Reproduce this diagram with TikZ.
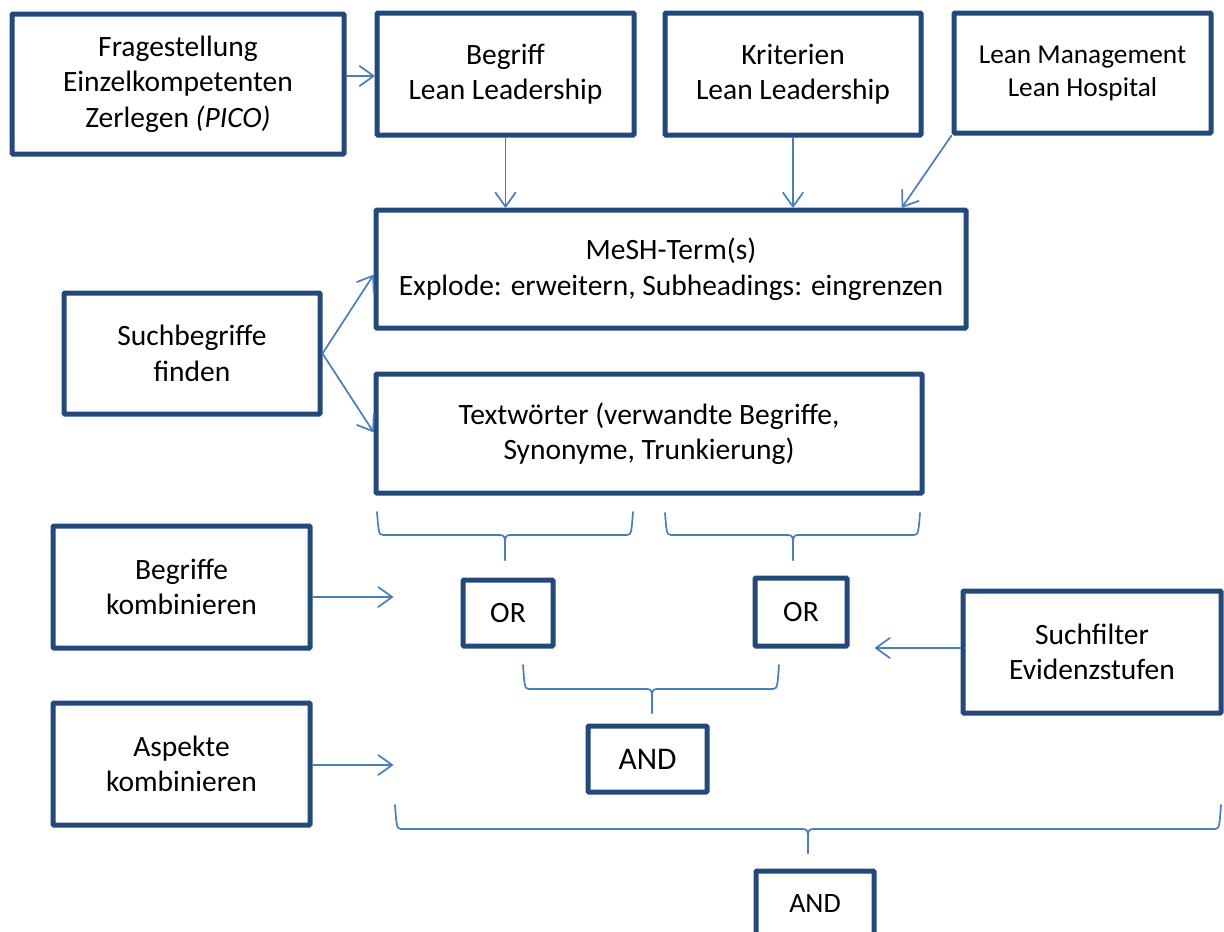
\documentclass[tikz,border=0pt]{standalone}
\usepackage{fontspec}
\setmainfont{Carlito}
\usetikzlibrary{arrows.meta}

\definecolor{boxblue}{RGB}{35,72,122}
\definecolor{lineblue}{RGB}{74,126,187}

\tikzset{
  box/.style={draw=boxblue, line width=5pt, rounded corners=1pt, align=center,
    inner sep=0pt, text=black, font=\fontsize{29.5}{35.5}\selectfont},
  smalltext/.style={font=\fontsize{27.3}{33}\selectfont},
  andtext/.style={font=\fontsize{31.5}{36}\selectfont},
  lowandtext/.style={font=\fontsize{28}{33}\selectfont},
  arr/.style={draw=lineblue, line width=1.7pt, line cap=round,
    -{Straight Barb[length=14pt,width=20pt,line cap=round,line join=round]}},
  bracestroke/.style={draw=lineblue, line width=1.7pt, line cap=round},
}

% curly brace opening downwards: left x, right x, tip x, top y, line y, tip y
\newcommand\downbrace[6]{%
  \draw[bracestroke] (#1,#4) .. controls (#1+1.5,#5-4) and (#1+1.5,#5) .. (#1+6,#5)
    -- (#3-5,#5) .. controls (#3-1,#5) and (#3,#5+2) .. (#3,#5+8) -- (#3,#6);
  \draw[bracestroke] (#2,#4) .. controls (#2-1.5,#5-4) and (#2-1.5,#5) .. (#2-6,#5)
    -- (#3+5,#5) .. controls (#3+1,#5) and (#3,#5+2) .. (#3,#5+8) -- (#3,#6);
}

\begin{document}
\begin{tikzpicture}[x=1pt, y=-1pt]
  \path[use as bounding box, clip] (0,0) rectangle (1224,932);

  % top row
  \node[box, minimum width=332pt, minimum height=140pt] (frage) at (178,84)
    {Fragestellung\\Einzelkompetenten\\Zerlegen \textit{(PICO)}};
  \node[box, minimum width=257pt, minimum height=122pt] (begriff) at (505.5,74)
    {Begriff\\Lean Leadership};
  \node[box, minimum width=256pt, minimum height=122pt] (krit) at (793,74)
    {Kriterien\\Lean Leadership};
  \node[box, smalltext, minimum width=257pt, minimum height=120pt] (lean) at (1082.5,73)
    {Lean Management\\Lean Hospital};

  % search terms
  \node[box, minimum width=590pt, minimum height=118pt] (mesh) at (671,269)
    {MeSH-Term(s)\\Explode: erweitern, Subheadings: eingrenzen};
  \node[box, minimum width=256pt, minimum height=121pt] (such) at (192,353.5)
    {Suchbegriffe\\finden};
  \node[box, minimum width=546pt, minimum height=119pt] (textw) at (649,433.5)
    {Textwörter (verwandte Begriffe,\\Synonyme, Trunkierung)};

  % combination
  \node[box, minimum width=257pt, minimum height=122pt] (begk) at (181.5,587)
    {Begriffe\\kombinieren};
  \node[box, minimum width=90pt, minimum height=66pt] (or1) at (508,613) {OR};
  \node[box, minimum width=92pt, minimum height=68pt] (or2) at (801,612) {OR};
  \node[box, minimum width=258pt, minimum height=122pt] (filter) at (1092,652)
    {Suchfilter\\Evidenzstufen};
  \node[box, minimum width=257pt, minimum height=122pt] (aspk) at (181.5,764)
    {Aspekte\\kombinieren};
  \node[box, andtext, minimum width=119pt, minimum height=66pt] (and1) at (647.5,759) {AND};
  \node[box, lowandtext, minimum width=118pt, minimum height=66pt] (and2) at (815,904) {AND};

  % free arrow ends
  \coordinate (begkend) at (393,597);
  \coordinate (aspkend) at (393,765);
  \coordinate (filterend) at (875,648);

  % connectors
  \draw[arr] (frage.east |- 0,76) -- (begriff.west |- 0,76);
  \draw[arr] (begriff.south) -- (begriff.south |- mesh.north);
  \draw[arr] (krit.south) -- (krit.south |- mesh.north);
  \draw[arr] (lean.south west) -- (mesh.north -| 902,0);
  \draw[arr] (such.east) -- (mesh.west |- 0,275);
  \draw[arr] (such.east) -- (textw.west |- 0,432);
  \draw[arr] (begk.east |- begkend) -- (begkend);
  \draw[arr] (aspk.east |- aspkend) -- (aspkend);
  \draw[arr] (filter.west |- filterend) -- (filterend);

  % braces
  \downbrace{377}{633}{505}{512}{535}{560}
  \downbrace{665}{920}{793}{513}{535}{560}
  \downbrace{523}{779}{652}{665}{689}{713}
  \downbrace{395}{1221}{808}{805}{829}{853}
\end{tikzpicture}
\end{document}
